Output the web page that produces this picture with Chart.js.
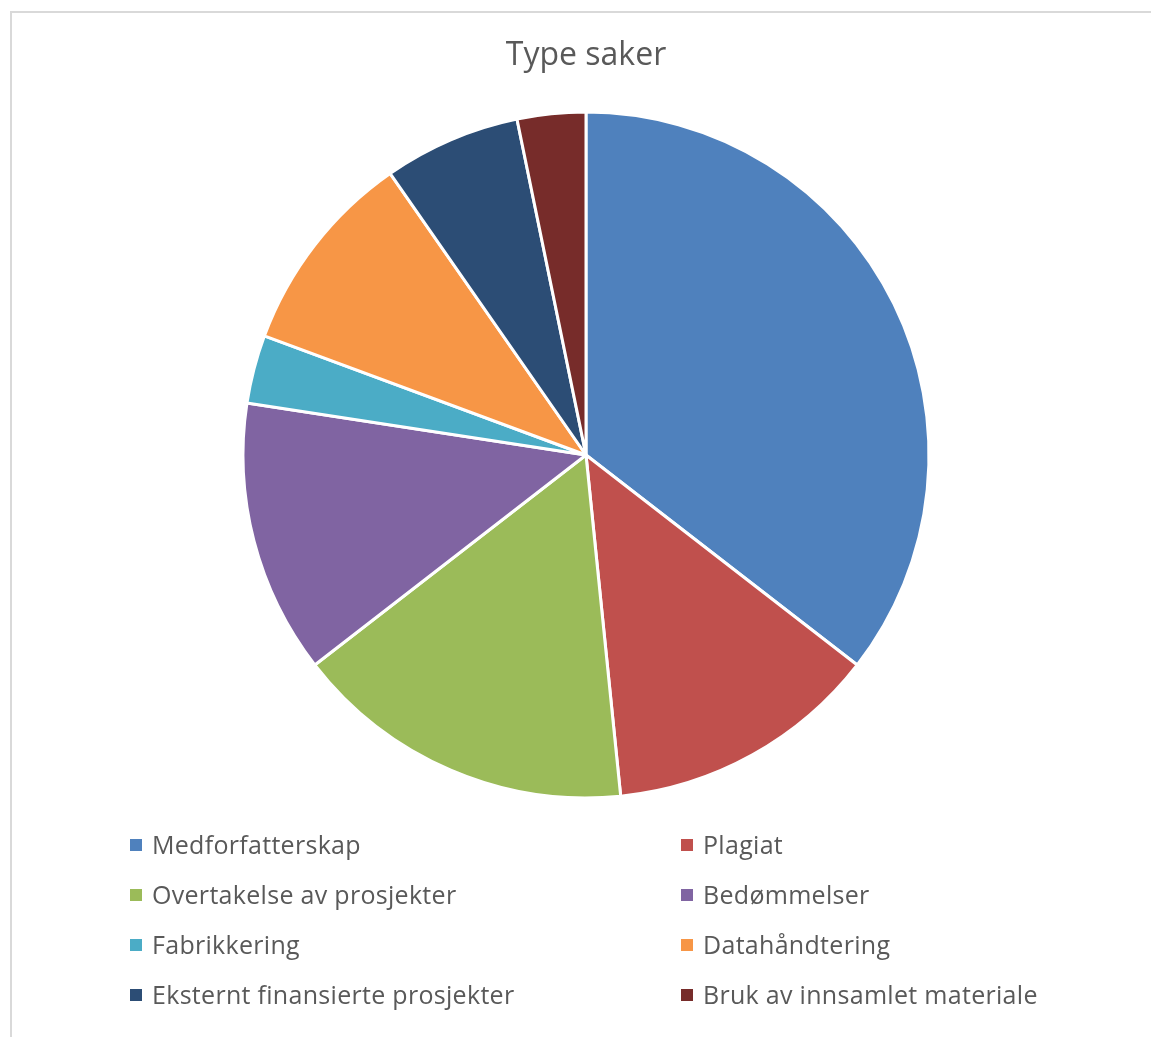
<!DOCTYPE html>
<html>
<head>
<meta charset="utf-8">
<script src="https://cdn.jsdelivr.net/npm/chart.js@4.4.0/dist/chart.umd.min.js"></script>
<style>
  html, body { margin: 0; padding: 0; background: #fff; overflow: hidden; }
  body { width: 1151px; height: 1037px; position: relative; font-family: 'Open Sans', sans-serif; }
  .frame { position: absolute; left: 10px; top: 11px; width: 1200px; height: 1100px; border: 2px solid #d9d9d9; box-sizing: border-box; }
  .chart-box { position: absolute; left: 0; top: 0; width: 1151px; height: 1037px; }
  .legend { position: absolute; left: 130px; top: 819px; display: grid; grid-template-columns: 551px 420px; grid-auto-rows: 50px; }
  .legend-item { display: flex; align-items: center; font-size: 25px; letter-spacing: 0.3px; color: #595959; white-space: nowrap; }
  .legend-item span.box { width: 12px; height: 12px; margin-right: 10px; margin-top: 2px; flex: none; }
</style>
</head>
<body>
<div class="frame"></div>
<div class="chart-box"><canvas class="chart"></canvas></div>
<div class="legend"></div>
<script>
  let labels = [
    'Medforfatterskap',
    'Plagiat',
    'Overtakelse av prosjekter',
    'Bedømmelser',
    'Fabrikkering',
    'Datahåndtering',
    'Eksternt finansierte prosjekter',
    'Bruk av innsamlet materiale'
  ];
  let counts = [11, 4, 5, 4, 1, 3, 2, 1];
  let colors = ['#4f81bd', '#c0504d', '#9bbb59', '#8064a2', '#4bacc6', '#f79646', '#2c4d75', '#772c2a'];

  // legend in two columns, like the original
  let legend = document.querySelector('.legend');
  for (let i = 0; i < labels.length; i++) {
    let item = document.createElement('div');
    item.className = 'legend-item';
    let box = document.createElement('span');
    box.className = 'box';
    box.style.background = colors[i];
    item.appendChild(box);
    item.appendChild(document.createTextNode(labels[i]));
    legend.appendChild(item);
  }

  let options = {
    type: 'pie',
    data: {
      labels: labels,
      datasets: [
        {
          data: counts,
          backgroundColor: colors,
          borderColor: '#ffffff',
          borderWidth: 3,
          radius: 343,
        },
      ],
    },
    options: {
      responsive: false,
      animation: false,
      layout: {
        padding: { left: 21, right: 0, top: 0, bottom: 227 },
      },
      plugins: {
        legend: { display: false },
        tooltip: { enabled: false },
        title: {
          display: true,
          text: 'Type saker',
          color: '#595959',
          font: { family: 'Open Sans', size: 32, weight: 'normal', lineHeight: 1.2 },
          padding: { top: 37, bottom: 24.6 },
        },
      },
    },
  };

  let canvas = document.querySelector('.chart');
  canvas.width = 1151;
  canvas.height = 1037;
  canvas.style.width = '1151px';
  canvas.style.height = '1037px';
  let chart = new Chart(canvas, options);
</script>
</body>
</html>
